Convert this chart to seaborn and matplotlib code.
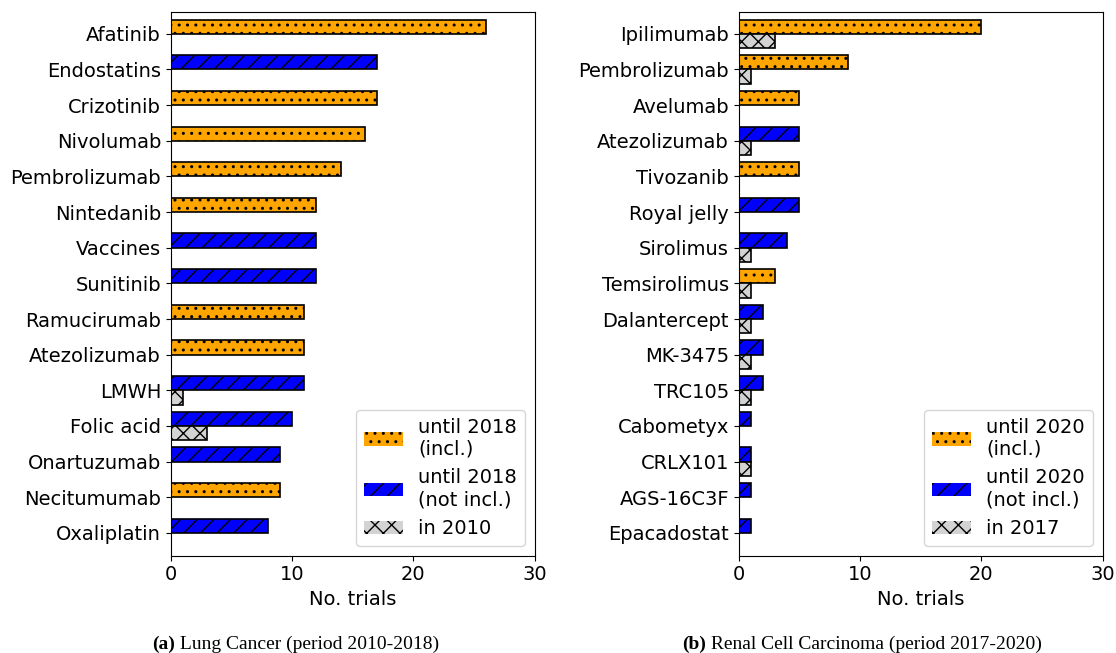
import numpy as np
import pandas as pd
import matplotlib
matplotlib.use("Agg")
import matplotlib.pyplot as plt
import seaborn as sns
from matplotlib.patches import Patch

# ---- data ----
lung_drugs = ["Afatinib", "Endostatins", "Crizotinib", "Nivolumab", "Pembrolizumab",
              "Nintedanib", "Vaccines", "Sunitinib", "Ramucirumab", "Atezolizumab",
              "LMWH", "Folic acid", "Onartuzumab", "Necitumumab", "Oxaliplatin"]
lung_until = [26, 17, 17, 16, 14, 12, 12, 12, 11, 11, 11, 10, 9, 9, 8]
lung_start = [0, 0, 0, 0, 0, 0, 0, 0, 0, 0, 1, 3, 0, 0, 0]
lung_incl = [True, False, True, True, True, True, False, False, True, True,
             False, False, False, True, False]

rcc_drugs = ["Ipilimumab", "Pembrolizumab", "Avelumab", "Atezolizumab", "Tivozanib",
             "Royal jelly", "Sirolimus", "Temsirolimus", "Dalantercept", "MK-3475",
             "TRC105", "Cabometyx", "CRLX101", "AGS-16C3F", "Epacadostat"]
rcc_until = [20, 9, 5, 5, 5, 5, 4, 3, 2, 2, 2, 1, 1, 1, 1]
rcc_start = [3, 1, 0, 1, 0, 0, 1, 1, 1, 1, 1, 0, 1, 0, 0]
rcc_incl = [True, True, True, False, True, False, False, True, False, False,
            False, False, False, False, False]

lung_labels = ["until 2018\n(incl.)", "until 2018\n(not incl.)", "in 2010"]
rcc_labels = ["until 2020\n(incl.)", "until 2020\n(not incl.)", "in 2017"]
captions = [("(a)", " Lung Cancer (period 2010-2018)"),
            ("(b)", " Renal Cell Carcinoma (period 2017-2020)")]

ORANGE, BLUE, GREY = "orange", "blue", "lightgrey"
H_ORANGE, H_BLUE, H_GREY = "..", "//", "xx"
FS = 14

fig = plt.figure(figsize=(11.16, 6.53), dpi=100)
ax1 = fig.add_axes([0.153, 0.149, 0.326, 0.833])
ax2 = fig.add_axes([0.662, 0.149, 0.326, 0.833])


def panel(ax, drugs, until, start, incl, labels):
    df = pd.DataFrame({
        "drug": drugs * 2,
        "value": until + start,
        "period": ["main"] * len(drugs) + ["prev"] * len(drugs),
    })
    sns.barplot(data=df, y="drug", x="value", hue="period", hue_order=["main", "prev"],
                order=drugs, dodge=True, width=0.8, errorbar=None, legend=False, ax=ax,
                orient="h")
    for p in ax.patches:
        yc = p.get_y() + p.get_height() / 2
        idx = int(round(yc))
        if p.get_width() == 0:
            p.set_visible(False)
            continue
        if yc < idx:  # main bar (upper)
            if incl[idx]:
                p.set_facecolor(ORANGE); p.set_hatch(H_ORANGE)
            else:
                p.set_facecolor(BLUE); p.set_hatch(H_BLUE)
        else:
            p.set_facecolor(GREY); p.set_hatch(H_GREY)
        p.set_edgecolor("black")
        p.set_linewidth(1.2)
    n = len(drugs)
    ax.set_ylim(n - 1 + 0.64, -0.62)
    ax.set_xlim(0, 30)
    ax.set_xticks([0, 10, 20, 30])
    ax.set_xlabel("No. trials", fontsize=FS)
    ax.set_ylabel("")
    ax.tick_params(labelsize=FS)
    handles = [Patch(facecolor=ORANGE, hatch=H_ORANGE, edgecolor="black", linewidth=0, label=labels[0]),
               Patch(facecolor=BLUE, hatch=H_BLUE, edgecolor="black", linewidth=0, label=labels[1]),
               Patch(facecolor=GREY, hatch=H_GREY, edgecolor="black", linewidth=0, label=labels[2])]
    ax.legend(handles=handles, loc="lower right", fontsize=FS)


panel(ax1, lung_drugs, lung_until, lung_start, lung_incl, lung_labels)
panel(ax2, rcc_drugs, rcc_until, rcc_start, rcc_incl, rcc_labels)

# captions, centred as a whole
fig.canvas.draw()
renderer = fig.canvas.get_renderer()
W = fig.bbox.width
for (tag, txt), xc_px in zip(captions, [296, 862]):
    t1 = fig.text(0, 0.006, tag, fontsize=FS, family="Liberation Serif",
                  fontweight="bold", ha="left", va="baseline")
    t2 = fig.text(0, 0.006, txt, fontsize=FS, family="Liberation Serif",
                  ha="left", va="baseline")
    w1 = t1.get_window_extent(renderer).width
    w2 = t2.get_window_extent(renderer).width
    x0 = xc_px - (w1 + w2) / 2
    t1.set_x(x0 / W)
    t2.set_x((x0 + w1) / W)

fig.savefig("out.png", dpi=100)
